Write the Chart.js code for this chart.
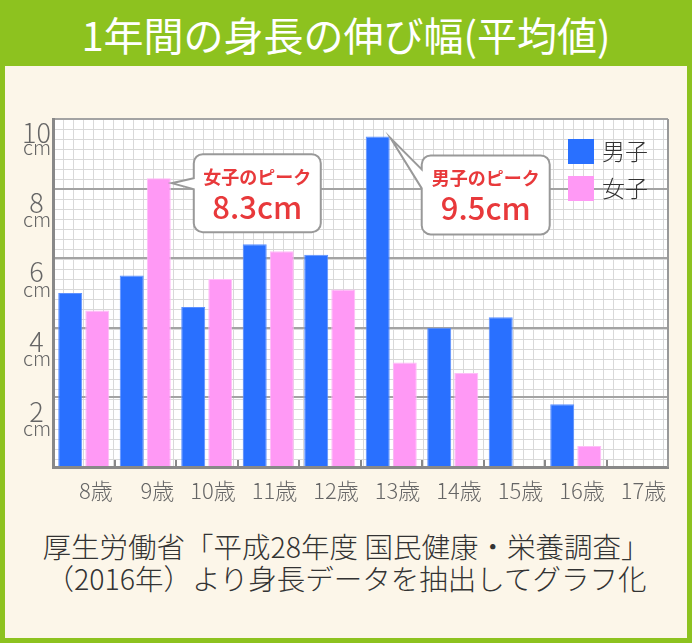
<!DOCTYPE html>
<html lang="ja">
<head>
<meta charset="utf-8">
<script src="https://cdn.jsdelivr.net/npm/chart.js@4.4.1/dist/chart.umd.min.js"></script>
<style>
  html, body { margin:0; padding:0; background:#8dc21f; }
  #frame { position:relative; width:692px; height:643px; background:#8dc21f; overflow:hidden;
           font-family:"Noto Sans CJK JP","Noto Sans",sans-serif; }
  #title { position:absolute; left:0; top:0; width:692px; height:66px; line-height:68px;
           text-align:center; color:#fff; font-size:40px; font-weight:400; }
  #panel { position:absolute; left:5px; top:66px; width:682px; height:572px; background:#fcf6e9; }
  #chartBox { position:absolute; left:0; top:0; width:682px; height:450px; }
  #source { position:absolute; left:0; top:464px; width:682px; text-align:center;
            color:#333; font-size:28.5px; line-height:32px; font-weight:300; }
</style>
</head>
<body>
<div id="frame">
  <div id="title">1年間の身長の伸び幅(平均値)</div>
  <div id="panel">
    <div id="chartBox"><canvas id="myChart" width="682" height="450"></canvas></div>
    <div id="source">厚生労働省「平成28年度 国民健康・栄養調査」<br>（2016年）より身長データを抽出してグラフ化</div>
  </div>
</div>
<script>
// データ
const ages        = ['8歳','9歳','10歳','11歳','12歳','13歳','14歳','15歳','16歳','17歳'];
const boysGrowth  = [5.0, 5.5, 4.6, 6.4, 6.1, 9.5, 4.0, 4.3, 1.8, null];
const girlsGrowth = [4.5, 8.3, 5.4, 6.2, 5.1, 3.0, 2.7, null, 0.6, null];
const seriesNames = ['男子','女子'];
const yTickValues = [0, 2, 4, 6, 8, 10];
const yUnit       = 'cm';
const peakSuffix  = 'のピーク';

(function(){
  'use strict';

  const FONT   = '"Noto Sans CJK JP","Noto Sans",sans-serif';
  const BLUE   = '#2970ff';
  const PINK   = '#ff99f5';
  const RED    = '#e8393b';

  // 方眼紙の背景
  const paperPlugin = {
    id:'paper',
    beforeDraw(chart){
      const {ctx, chartArea:a} = chart;
      ctx.save();
      ctx.fillStyle = '#fff';
      ctx.fillRect(a.left, a.top, a.right - a.left, a.bottom - a.top);
      ctx.strokeStyle = '#d9d9d9';
      ctx.lineWidth = 1;
      ctx.beginPath();
      for (let x = a.left + 10; x < a.right; x += 10){
        ctx.moveTo(Math.round(x) + 0.5, a.top);
        ctx.lineTo(Math.round(x) + 0.5, a.bottom);
      }
      for (let y = a.top + 10; y < a.bottom; y += 10){
        ctx.moveTo(a.left, Math.round(y) + 0.5);
        ctx.lineTo(a.right, Math.round(y) + 0.5);
      }
      ctx.stroke();
      ctx.restore();
    },
    beforeDatasetsDraw(chart){
      const {ctx, chartArea:a} = chart;
      ctx.save();
      ctx.strokeStyle = '#999';
      ctx.lineWidth = 2;
      ctx.beginPath();
      ctx.moveTo(a.right, a.top);
      ctx.lineTo(a.right, a.bottom);
      ctx.stroke();
      ctx.restore();
    }
  };

  // y軸の単位 "cm"
  const unitPlugin = {
    id:'unit',
    afterDraw(chart){
      const {ctx} = chart;
      const y = chart.scales.y;
      ctx.save();
      ctx.font = '300 20px ' + FONT;
      ctx.fillStyle = '#666';
      ctx.textAlign = 'center';
      ctx.textBaseline = 'middle';
      y.ticks.forEach(t => {
        if (!t.value) return;
        const py = y.getPixelForValue(t.value);
        const off = t.value === y.max ? 28 : 31;
        ctx.fillText(yUnit, y.right - 16, py + off);
      });
      ctx.restore();
    }
  };

  // 凡例（グラフ内右上）
  const legendPlugin = {
    id:'innerLegend',
    afterDatasetsDraw(chart){
      const {ctx, chartArea:a} = chart;
      ctx.save();
      chart.data.datasets.forEach((ds, i) => {
        const x = a.right - 100;
        const y = a.top + 20 + i * 37;
        ctx.fillStyle = ds.backgroundColor;
        ctx.fillRect(x, y, 26, 25);
        ctx.fillStyle = '#333';
        ctx.font = '300 23px ' + FONT;
        ctx.textBaseline = 'middle';
        ctx.textAlign = 'left';
        ctx.fillText(ds.label, x + 34, y + 12);
      });
      ctx.restore();
    }
  };

  function calloutPath(ctx, x, y, w, h, r, tipX, tipY, b1, b2){
    ctx.beginPath();
    ctx.moveTo(x + r, y);
    ctx.lineTo(x + w - r, y);
    ctx.arcTo(x + w, y, x + w, y + r, r);
    ctx.lineTo(x + w, y + h - r);
    ctx.arcTo(x + w, y + h, x + w - r, y + h, r);
    ctx.lineTo(x + r, y + h);
    ctx.arcTo(x, y + h, x, y + h - r, r);
    ctx.lineTo(x, b2);
    ctx.lineTo(tipX, tipY);
    ctx.lineTo(x, b1);
    ctx.lineTo(x, y + r);
    ctx.arcTo(x, y, x + r, y, r);
    ctx.closePath();
  }

  // ピークの吹き出し
  const peakPlugin = {
    id:'peaks',
    afterDatasetsDraw(chart){
      const {ctx} = chart;
      const layouts = [
        {dx:31, dy:19, tipDy:2, w:128, h:79, b1:14, b2:33},   // 男子
        {dx:22, dy:-24, tipDy:5, w:127, h:78, b1:24, b2:35}   // 女子
      ];
      chart.data.datasets.forEach((ds, i) => {
        let idx = 0;
        ds.data.forEach((v, k) => { if (v != null && v > ds.data[idx]) idx = k; });
        const bar = chart.getDatasetMeta(i).data[idx];
        const L = layouts[i];
        const tipX = bar.x + bar.width / 2 + 1;
        const tipY = bar.y + L.tipDy;
        const bx = tipX + L.dx, by = bar.y + L.dy;
        ctx.save();
        calloutPath(ctx, bx, by, L.w, L.h, 9, tipX, tipY, by + L.b1, by + L.b2);
        ctx.fillStyle = '#fff';
        ctx.fill();
        ctx.strokeStyle = '#999';
        ctx.lineWidth = 2;
        ctx.stroke();
        ctx.fillStyle = RED;
        ctx.textAlign = 'center';
        ctx.textBaseline = 'middle';
        ctx.font = 'bold 18px ' + FONT;
        ctx.fillText(ds.label + peakSuffix, bx + L.w / 2, by + 23);
        ctx.font = '500 31px ' + FONT;
        ctx.fillText(ds.data[idx].toFixed(1) + yUnit, bx + L.w / 2, by + 53);
        ctx.restore();
      });
    }
  };

  function init(){
    const ctx = document.getElementById('myChart').getContext('2d');
    new Chart(ctx, {
      type:'bar',
      data:{
        labels: ages,
        datasets:[
          { label:seriesNames[0], data:boysGrowth, backgroundColor:BLUE, borderColor:'#5c90ff', borderWidth:1 },
          { label:seriesNames[1], data:girlsGrowth, backgroundColor:PINK, borderColor:'#ffbdf8', borderWidth:1 }
        ]
      },
      options:{
        responsive:false,
        animation:false,
        devicePixelRatio:1,
        layout:{ padding:{ left:10, right:19, top:53, bottom:9 } },
        datasets:{ bar:{ categoryPercentage:0.88, barPercentage:0.887 } },
        plugins:{
          legend:{ display:false },
          tooltip:{ enabled:false }
        },
        scales:{
          x:{
            offset:true,
            grid:{ offset:true, drawOnChartArea:false, drawTicks:true, tickLength:-7, color:'#888', lineWidth:2 },
            border:{ color:'#888', width:3 },
            ticks:{ align:'end', labelOffset:29, padding:17, color:'#666', font:{ family:FONT, size:22, weight:'300' } },
            afterFit(s){ s.height = 40; }
          },
          y:{
            min:0, max:10,
            afterBuildTicks(s){ s.ticks = yTickValues.map(v => ({value:v})); },
            grid:{ color:'#a3a3a3', lineWidth:2, drawTicks:false },
            border:{ color:'#888', width:3 },
            ticks:{
              crossAlign:'center',
              padding:2,
              color:'#666',
              font:{ family:FONT, size:27, weight:'300' },
              labelOffset(c){ return c.tick && c.tick.value === 10 ? 9 : 14; },
              callback(v){ return v === 0 ? '' : String(v); }
            },
            afterFit(s){ s.width = 38; }
          }
        }
      },
      plugins:[paperPlugin, unitPlugin, legendPlugin, peakPlugin]
    });
  }

  if (document.readyState === 'loading'){
    document.addEventListener('DOMContentLoaded', init);
  } else {
    init();
  }
})();
</script>
</body>
</html>
